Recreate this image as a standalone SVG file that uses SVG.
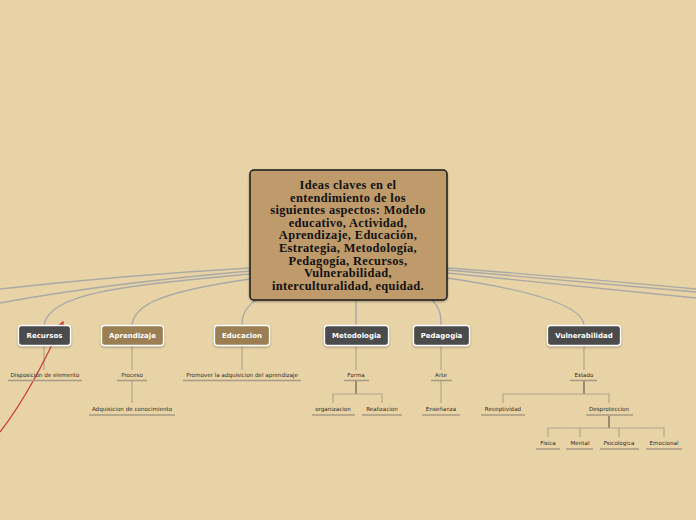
<svg xmlns="http://www.w3.org/2000/svg" width="696" height="520" viewBox="0 0 696 520">
<defs>
<pattern id="bg" width="5" height="5" patternUnits="userSpaceOnUse" patternTransform="rotate(45)">
<rect width="5" height="5" fill="#e9d4a8"/>
<line x1="0" y1="0" x2="0" y2="5" stroke="#e4cea0" stroke-width="1"/>
</pattern>
<marker id="ah" viewBox="0 0 10 10" refX="8" refY="5" markerWidth="5" markerHeight="5" orient="auto">
<path d="M0,0 L10,5 L0,10 z" fill="#cc3b3b"/>
</marker>
<filter id="sh" x="-20%" y="-20%" width="140%" height="160%">
<feDropShadow dx="0" dy="1" stdDeviation="1" flood-color="#000" flood-opacity="0.35"/>
</filter>
</defs>
<style>
.main{fill:#bf9a6b;stroke:#1a1a1a;stroke-width:1.5}
.mt{font-family:"Liberation Serif",serif;font-weight:bold;font-size:12.4px;letter-spacing:0.35px;fill:#111;text-anchor:middle}
.dark{fill:#4b4b4b;stroke:#fff;stroke-width:1.3}
.brown{fill:#9b7f53;stroke:#fff;stroke-width:1.3}
.nt{font-family:"DejaVu Sans",sans-serif;font-weight:bold;font-size:7px;fill:#fff;text-anchor:middle}
.st{font-family:"DejaVu Sans",sans-serif;font-size:5.6px;fill:#33291c;text-anchor:middle}
.ul{stroke:#a79a83;stroke-width:1.5;fill:none}
.c1{stroke:#a9a9a6;stroke-width:1.4;fill:none}
.c2{stroke:#b3a68a;stroke-width:1.2;fill:none}
.c3{stroke:#7d6c52;stroke-width:1.4;fill:none}
</style>
<rect width="696" height="520" fill="url(#bg)"/>

<g id="connectors">
<path class="c1" d="M250,268 C180,272 80,280 0,289"/>
<path class="c1" d="M250,271 C170,278 70,290 0,303"/>
<path class="c1" d="M250,274 C140,285 50,290 44,325"/>
<path class="c1" d="M250,279 C160,292 134,305 132,325"/>
<path class="c1" d="M256,300 C245,308 242,315 242,325"/>
<path class="c1" d="M356,300 L356,325"/>
<path class="c1" d="M432,300 C440,308 441,315 441,325"/>
<path class="c1" d="M447,278 C530,290 582,305 584,325"/>
<path class="c1" d="M447,268 C530,274 620,282 696,289"/>
<path class="c1" d="M447,270 C540,278 630,286 696,292"/>
<path class="c1" d="M447,273 C540,283 630,291 696,298"/>

<path class="c2" d="M44,345 V370"/>
<path class="c2" d="M132,345 V370"/>
<path class="c2" d="M132,381 V403"/>
<path class="c2" d="M242,345 V370"/>
<path class="c2" d="M356,345 V370"/>
<path class="c3" d="M356,381 V394"/>
<path class="c2" d="M333,403 V394 H382 V403"/>
<path class="c2" d="M441,345 V370"/>
<path class="c2" d="M441,381 V403"/>
<path class="c2" d="M584,345 V370"/>
<path class="c3" d="M584,381 V394"/>
<path class="c2" d="M503,403 V394 H609 V403"/>
<path class="c3" d="M609,416 V428"/>
<path class="c2" d="M548,437 V428 H664 V437"/>
<path class="c2" d="M580,428 V437"/>
<path class="c2" d="M619,428 V437"/>

<path d="M0,432 C25,400 45,360 63,322" stroke="#cc3b3b" stroke-width="1.3" fill="none" marker-end="url(#ah)"/>
</g>

<g id="main">
<rect class="main" x="250" y="170" width="197" height="130" rx="4" filter="url(#sh)"/>
<text class="mt" x="348" y="189">Ideas claves en el</text>
<text class="mt" x="348" y="201.6">entendimiento de los</text>
<text class="mt" x="348" y="214.2">siguientes aspectos: Modelo</text>
<text class="mt" x="348" y="226.8">educativo, Actividad,</text>
<text class="mt" x="348" y="239.4">Aprendizaje, Educación,</text>
<text class="mt" x="348" y="252">Estrategia, Metodología,</text>
<text class="mt" x="348" y="264.6">Pedagogía, Recursos,</text>
<text class="mt" x="348" y="277.2">Vulnerabilidad,</text>
<text class="mt" x="348" y="289.8">interculturalidad, equidad.</text>
</g>

<g id="recursos">
<rect class="dark" x="18.5" y="325.5" width="52" height="20" rx="3" filter="url(#sh)"/>
<text class="nt" x="44.5" y="338.2">Recursos</text>
</g>
<g id="aprendizaje">
<rect class="brown" x="101.5" y="325.5" width="62" height="20" rx="3" filter="url(#sh)"/>
<text class="nt" x="132.5" y="338.2">Aprendizaje</text>
</g>
<g id="educacion">
<rect class="brown" x="214.5" y="325.5" width="55" height="20" rx="3" filter="url(#sh)"/>
<text class="nt" x="242" y="338.2">Educacion</text>
</g>
<g id="metodologia">
<rect class="dark" x="324.5" y="325.5" width="64" height="20" rx="3" filter="url(#sh)"/>
<text class="nt" x="356.5" y="338.2">Metodologia</text>
</g>
<g id="pedagogia">
<rect class="dark" x="413.5" y="325.5" width="56" height="20" rx="3" filter="url(#sh)"/>
<text class="nt" x="441.5" y="338.2">Pedagogia</text>
</g>
<g id="vulnerabilidad">
<rect class="dark" x="547.5" y="325.5" width="73" height="20" rx="3" filter="url(#sh)"/>
<text class="nt" x="584" y="338.2">Vulnerabilidad</text>
</g>

<g id="disposicion"><text class="st" x="45" y="377">Disposición de elemento</text><path class="ul" d="M8,380.5 H82"/></g>
<g id="proceso"><text class="st" x="132" y="377">Proceso</text><path class="ul" d="M117,380.5 H147"/></g>
<g id="adquisicion"><text class="st" x="132" y="411">Adquisicion de conocimiento</text><path class="ul" d="M89,415 H175"/></g>
<g id="promover"><text class="st" x="242" y="377">Promover la adquisicion del aprendizaje</text><path class="ul" d="M183,380.5 H301"/></g>
<g id="forma"><text class="st" x="356" y="377">Forma</text><path class="ul" d="M344,380.5 H369"/></g>
<g id="organizacion"><text class="st" x="333" y="411">organizacion</text><path class="ul" d="M312,415 H355"/></g>
<g id="realizacion"><text class="st" x="382" y="411">Realizacion</text><path class="ul" d="M362,415 H402"/></g>
<g id="arte"><text class="st" x="441" y="377">Arte</text><path class="ul" d="M431,380.5 H452"/></g>
<g id="ensenanza"><text class="st" x="441" y="411">Enseñanza</text><path class="ul" d="M422,415 H460"/></g>
<g id="estado"><text class="st" x="584" y="377">Estado</text><path class="ul" d="M570,380.5 H597"/></g>
<g id="receptividad"><text class="st" x="503" y="411">Receptividad</text><path class="ul" d="M481,415 H525"/></g>
<g id="desproteccion"><text class="st" x="609" y="411">Desproteccion</text><path class="ul" d="M586,415 H633"/></g>
<g id="fisica"><text class="st" x="548" y="445">Fisica</text><path class="ul" d="M536,449 H560"/></g>
<g id="mental"><text class="st" x="580" y="445">Mental</text><path class="ul" d="M566,449 H593"/></g>
<g id="psicologica"><text class="st" x="619" y="445">Psicologica</text><path class="ul" d="M600,449 H639"/></g>
<g id="emocional"><text class="st" x="664" y="445">Emocional</text><path class="ul" d="M646,449 H682"/></g>
</svg>
